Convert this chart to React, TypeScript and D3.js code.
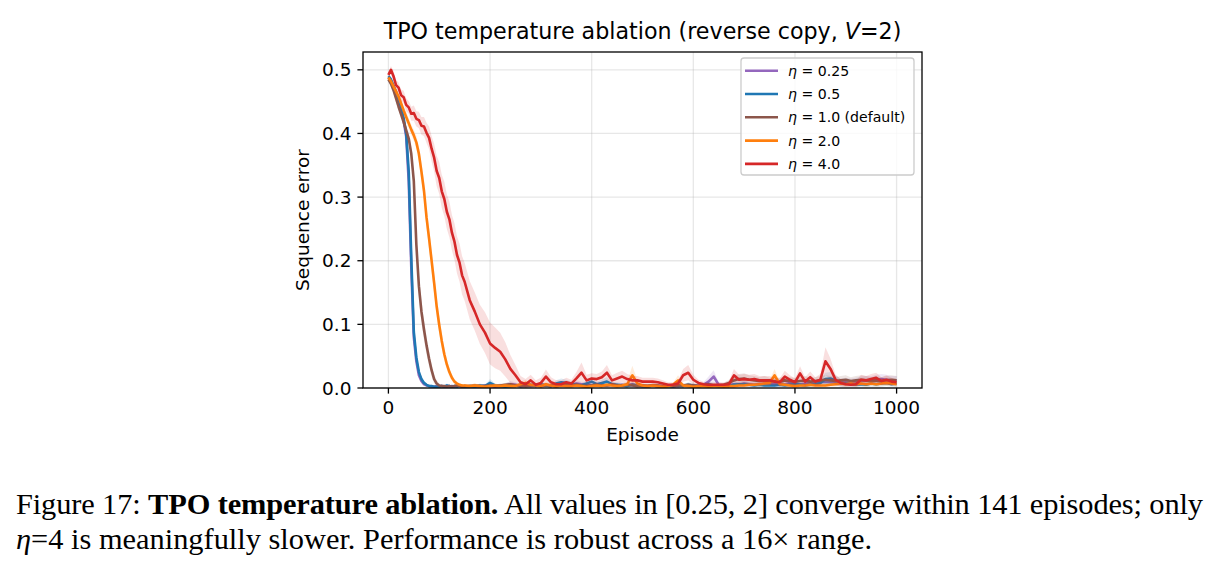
import * as d3 from 'd3'

// shared x grid: every 5 episodes up to 150, then every 10
const episodes = [
  0, 5, 10, 15, 20, 25, 30, 35, 40, 45,
  50, 55, 60, 65, 70, 75, 80, 85, 90, 95,
  100, 105, 110, 115, 120, 125, 130, 135, 140, 145, 150,
  160, 170, 180, 190, 200, 210, 220, 230, 240, 250,
  260, 270, 280, 290, 300, 310, 320, 330, 340, 350,
  360, 370, 380, 390, 400, 410, 420, 430, 440, 450,
  460, 470, 480, 490, 500, 510, 520, 530, 540, 550,
  560, 570, 580, 590, 600, 610, 620, 630, 640, 650,
  660, 670, 680, 690, 700, 710, 720, 730, 740, 750,
  760, 770, 780, 790, 800, 810, 820, 830, 840, 850,
  860, 870, 880, 890, 900, 910, 920, 930, 940, 950,
  960, 970, 980, 990, 1000,
]

// eta = 0.25
const eta025Mean = [
  0.488, 0.483, 0.473, 0.463, 0.452, 0.438, 0.420, 0.395, 0.325, 0.190,
  0.080, 0.042, 0.020, 0.011, 0.006, 0.004, 0.003, 0.002, 0.002, 0.003,
  0.002, 0.003, 0.002, 0.003, 0.002, 0.003, 0.002, 0.004, 0.003, 0.002, 0.003,
  0.002, 0.003, 0.002, 0.004, 0.003, 0.002, 0.003, 0.004, 0.006, 0.005,
  0.003, 0.004, 0.003, 0.004, 0.005, 0.004, 0.003, 0.005, 0.006, 0.004,
  0.005, 0.007, 0.006, 0.005, 0.004, 0.006, 0.005, 0.004, 0.005, 0.004,
  0.005, 0.004, 0.006, 0.004, 0.003, 0.003, 0.004, 0.003, 0.003, 0.004,
  0.003, 0.003, 0.004, 0.004, 0.003, 0.004, 0.005, 0.010, 0.018, 0.005,
  0.004, 0.005, 0.006, 0.005, 0.007, 0.006, 0.005, 0.006, 0.007, 0.006,
  0.006, 0.007, 0.006, 0.008, 0.007, 0.006, 0.007, 0.008, 0.008, 0.009,
  0.010, 0.009, 0.008, 0.009, 0.010, 0.009, 0.010, 0.011, 0.012, 0.012,
  0.013, 0.014, 0.013, 0.012, 0.012,
]
const eta025Sd = [
  0.003, 0.004, 0.005, 0.005, 0.006, 0.006, 0.007, 0.008, 0.012, 0.015,
  0.012, 0.008, 0.006, 0.004, 0.003, 0.002, 0.002, 0.002, 0.002, 0.002,
  0.002, 0.002, 0.002, 0.003, 0.002, 0.002, 0.002, 0.003, 0.003, 0.002, 0.002,
  0.002, 0.003, 0.002, 0.003, 0.003, 0.002, 0.003, 0.003, 0.005, 0.004,
  0.003, 0.003, 0.003, 0.003, 0.004, 0.003, 0.003, 0.004, 0.004, 0.003,
  0.004, 0.005, 0.004, 0.004, 0.003, 0.004, 0.004, 0.003, 0.004, 0.003,
  0.004, 0.003, 0.004, 0.003, 0.003, 0.003, 0.003, 0.003, 0.003, 0.003,
  0.003, 0.003, 0.003, 0.003, 0.003, 0.003, 0.004, 0.008, 0.010, 0.004,
  0.003, 0.004, 0.004, 0.004, 0.005, 0.004, 0.004, 0.004, 0.005, 0.004,
  0.004, 0.005, 0.004, 0.005, 0.005, 0.004, 0.005, 0.005, 0.005, 0.006,
  0.006, 0.006, 0.005, 0.006, 0.006, 0.006, 0.006, 0.007, 0.007, 0.007,
  0.008, 0.008, 0.008, 0.007, 0.007,
]

// eta = 0.5
const eta05Mean = [
  0.490, 0.485, 0.475, 0.465, 0.455, 0.441, 0.424, 0.400, 0.340, 0.205,
  0.088, 0.048, 0.025, 0.014, 0.008, 0.005, 0.003, 0.003, 0.002, 0.002,
  0.002, 0.003, 0.002, 0.004, 0.003, 0.002, 0.003, 0.002, 0.004, 0.003, 0.002,
  0.003, 0.002, 0.004, 0.003, 0.008, 0.004, 0.003, 0.002, 0.003, 0.004,
  0.003, 0.004, 0.005, 0.003, 0.006, 0.004, 0.003, 0.007, 0.009, 0.008,
  0.006, 0.005, 0.004, 0.007, 0.010, 0.006, 0.008, 0.010, 0.006, 0.005,
  0.004, 0.003, 0.005, 0.004, 0.003, 0.003, 0.004, 0.003, 0.002, 0.003,
  0.003, 0.004, 0.003, 0.005, 0.004, 0.003, 0.004, 0.006, 0.004, 0.003,
  0.004, 0.003, 0.005, 0.006, 0.006, 0.005, 0.004, 0.005, 0.004, 0.004,
  0.004, 0.005, 0.004, 0.005, 0.006, 0.005, 0.004, 0.005, 0.006, 0.008,
  0.014, 0.015, 0.012, 0.008, 0.007, 0.006, 0.005, 0.006, 0.005, 0.007,
  0.006, 0.007, 0.008, 0.006, 0.007,
]
const eta05Sd = [
  0.003, 0.004, 0.005, 0.005, 0.006, 0.006, 0.007, 0.008, 0.012, 0.015,
  0.012, 0.008, 0.006, 0.004, 0.003, 0.002, 0.002, 0.002, 0.002, 0.002,
  0.002, 0.002, 0.002, 0.003, 0.002, 0.002, 0.002, 0.002, 0.003, 0.002, 0.002,
  0.002, 0.002, 0.003, 0.002, 0.006, 0.003, 0.002, 0.002, 0.002, 0.003,
  0.002, 0.003, 0.004, 0.002, 0.004, 0.003, 0.002, 0.005, 0.006, 0.005,
  0.004, 0.004, 0.003, 0.005, 0.007, 0.004, 0.005, 0.007, 0.004, 0.004,
  0.003, 0.002, 0.004, 0.003, 0.002, 0.002, 0.003, 0.002, 0.002, 0.002,
  0.002, 0.003, 0.002, 0.004, 0.003, 0.002, 0.003, 0.004, 0.003, 0.002,
  0.003, 0.002, 0.004, 0.004, 0.004, 0.004, 0.003, 0.004, 0.003, 0.003,
  0.003, 0.004, 0.003, 0.004, 0.004, 0.004, 0.003, 0.004, 0.004, 0.006,
  0.010, 0.010, 0.008, 0.006, 0.005, 0.004, 0.004, 0.004, 0.004, 0.005,
  0.004, 0.005, 0.005, 0.004, 0.005,
]

// eta = 1.0 (default)
const eta1Mean = [
  0.485, 0.478, 0.468, 0.455, 0.442, 0.430, 0.418, 0.405, 0.392, 0.368,
  0.325, 0.225, 0.160, 0.120, 0.092, 0.067, 0.046, 0.028, 0.014, 0.007,
  0.004, 0.003, 0.003, 0.002, 0.003, 0.002, 0.003, 0.004, 0.003, 0.002, 0.003,
  0.003, 0.004, 0.003, 0.003, 0.004, 0.003, 0.004, 0.005, 0.006, 0.004,
  0.004, 0.003, 0.004, 0.005, 0.003, 0.004, 0.004, 0.003, 0.004, 0.005,
  0.004, 0.005, 0.004, 0.003, 0.004, 0.005, 0.004, 0.004, 0.006, 0.004,
  0.004, 0.005, 0.004, 0.003, 0.004, 0.003, 0.004, 0.004, 0.003, 0.004,
  0.003, 0.004, 0.004, 0.005, 0.004, 0.003, 0.004, 0.005, 0.004, 0.004,
  0.005, 0.008, 0.012, 0.014, 0.015, 0.013, 0.012, 0.011, 0.012, 0.010,
  0.011, 0.010, 0.012, 0.011, 0.010, 0.011, 0.012, 0.010, 0.011, 0.012,
  0.013, 0.012, 0.011, 0.012, 0.013, 0.011, 0.012, 0.013, 0.012, 0.011,
  0.012, 0.011, 0.012, 0.013, 0.012,
]
const eta1Sd = [
  0.003, 0.004, 0.005, 0.006, 0.006, 0.007, 0.007, 0.008, 0.009, 0.010,
  0.012, 0.016, 0.018, 0.018, 0.016, 0.014, 0.012, 0.010, 0.007, 0.005,
  0.003, 0.002, 0.002, 0.002, 0.002, 0.002, 0.002, 0.002, 0.002, 0.002, 0.002,
  0.002, 0.003, 0.002, 0.002, 0.003, 0.002, 0.003, 0.003, 0.004, 0.003,
  0.003, 0.002, 0.003, 0.003, 0.002, 0.003, 0.003, 0.002, 0.003, 0.003,
  0.003, 0.003, 0.003, 0.002, 0.003, 0.003, 0.003, 0.003, 0.004, 0.003,
  0.003, 0.003, 0.003, 0.002, 0.003, 0.002, 0.003, 0.003, 0.002, 0.003,
  0.002, 0.003, 0.003, 0.003, 0.003, 0.002, 0.003, 0.003, 0.003, 0.003,
  0.003, 0.005, 0.007, 0.008, 0.008, 0.007, 0.007, 0.006, 0.007, 0.006,
  0.006, 0.006, 0.007, 0.006, 0.006, 0.006, 0.007, 0.006, 0.006, 0.007,
  0.007, 0.007, 0.006, 0.007, 0.007, 0.006, 0.007, 0.007, 0.007, 0.006,
  0.007, 0.006, 0.007, 0.007, 0.007,
]

// eta = 2.0
const eta2Mean = [
  0.488, 0.482, 0.474, 0.466, 0.458, 0.447, 0.436, 0.426, 0.416, 0.406,
  0.397, 0.386, 0.368, 0.340, 0.310, 0.268, 0.235, 0.200, 0.165, 0.128,
  0.099, 0.074, 0.053, 0.037, 0.025, 0.016, 0.010, 0.007, 0.005, 0.004, 0.004,
  0.003, 0.004, 0.003, 0.002, 0.003, 0.004, 0.003, 0.004, 0.003, 0.003,
  0.006, 0.008, 0.005, 0.004, 0.003, 0.006, 0.004, 0.003, 0.004, 0.003,
  0.003, 0.004, 0.003, 0.002, 0.003, 0.004, 0.003, 0.005, 0.004, 0.003,
  0.004, 0.006, 0.020, 0.007, 0.004, 0.003, 0.004, 0.003, 0.002, 0.003,
  0.005, 0.012, 0.004, 0.003, 0.002, 0.003, 0.003, 0.002, 0.003, 0.003,
  0.002, 0.003, 0.003, 0.004, 0.004, 0.005, 0.005, 0.006, 0.007, 0.008,
  0.020, 0.006, 0.005, 0.004, 0.003, 0.004, 0.004, 0.005, 0.004, 0.004,
  0.004, 0.005, 0.006, 0.007, 0.006, 0.007, 0.006, 0.007, 0.006, 0.007,
  0.006, 0.007, 0.008, 0.007, 0.006,
]
const eta2Sd = [
  0.003, 0.004, 0.005, 0.006, 0.006, 0.007, 0.007, 0.008, 0.008, 0.008,
  0.009, 0.010, 0.012, 0.014, 0.016, 0.017, 0.017, 0.017, 0.016, 0.015,
  0.014, 0.012, 0.010, 0.008, 0.007, 0.005, 0.004, 0.003, 0.003, 0.002, 0.002,
  0.002, 0.003, 0.002, 0.002, 0.002, 0.003, 0.002, 0.003, 0.002, 0.002,
  0.004, 0.005, 0.003, 0.003, 0.002, 0.004, 0.003, 0.002, 0.003, 0.002,
  0.002, 0.003, 0.002, 0.002, 0.002, 0.003, 0.002, 0.003, 0.003, 0.002,
  0.003, 0.004, 0.015, 0.005, 0.003, 0.002, 0.003, 0.002, 0.002, 0.002,
  0.003, 0.008, 0.003, 0.002, 0.002, 0.002, 0.002, 0.002, 0.002, 0.002,
  0.002, 0.002, 0.002, 0.003, 0.003, 0.003, 0.003, 0.004, 0.004, 0.005,
  0.010, 0.004, 0.003, 0.003, 0.002, 0.003, 0.003, 0.003, 0.003, 0.003,
  0.003, 0.003, 0.004, 0.004, 0.004, 0.004, 0.004, 0.004, 0.004, 0.004,
  0.004, 0.004, 0.005, 0.004, 0.004,
]

// eta = 4.0
const eta4Mean = [
  0.492, 0.500, 0.490, 0.476, 0.472, 0.460, 0.457, 0.445, 0.441, 0.431,
  0.432, 0.423, 0.421, 0.412, 0.411, 0.401, 0.393, 0.376, 0.362, 0.341,
  0.330, 0.309, 0.297, 0.277, 0.265, 0.244, 0.230, 0.209, 0.197, 0.177, 0.167,
  0.138, 0.120, 0.100, 0.087, 0.070, 0.063, 0.057, 0.045, 0.030, 0.020,
  0.009, 0.006, 0.012, 0.005, 0.008, 0.018, 0.009, 0.006, 0.006, 0.009,
  0.007, 0.015, 0.024, 0.012, 0.015, 0.014, 0.017, 0.024, 0.012, 0.015,
  0.018, 0.014, 0.012, 0.012, 0.010, 0.010, 0.010, 0.009, 0.007, 0.005,
  0.005, 0.007, 0.020, 0.024, 0.013, 0.008, 0.006, 0.005, 0.005, 0.005,
  0.005, 0.006, 0.020, 0.013, 0.014, 0.013, 0.014, 0.012, 0.012, 0.012,
  0.010, 0.009, 0.018, 0.013, 0.009, 0.023, 0.010, 0.017, 0.010, 0.013,
  0.042, 0.030, 0.013, 0.008, 0.006, 0.005, 0.006, 0.013, 0.012, 0.014,
  0.016, 0.011, 0.013, 0.010, 0.009,
]
const eta4Sd = [
  0.004, 0.006, 0.008, 0.008, 0.008, 0.009, 0.010, 0.010, 0.010, 0.011,
  0.012, 0.012, 0.013, 0.014, 0.015, 0.016, 0.018, 0.020, 0.022, 0.024,
  0.025, 0.026, 0.027, 0.027, 0.028, 0.028, 0.029, 0.029, 0.030, 0.030, 0.030,
  0.030, 0.030, 0.031, 0.032, 0.033, 0.032, 0.030, 0.027, 0.022, 0.016,
  0.010, 0.008, 0.009, 0.007, 0.008, 0.011, 0.008, 0.006, 0.006, 0.007,
  0.006, 0.010, 0.016, 0.009, 0.008, 0.008, 0.009, 0.012, 0.008, 0.009,
  0.009, 0.008, 0.007, 0.007, 0.006, 0.006, 0.006, 0.006, 0.005, 0.004,
  0.004, 0.005, 0.010, 0.012, 0.008, 0.005, 0.004, 0.004, 0.004, 0.004,
  0.004, 0.005, 0.010, 0.008, 0.008, 0.008, 0.008, 0.007, 0.007, 0.007,
  0.006, 0.006, 0.009, 0.007, 0.006, 0.011, 0.007, 0.009, 0.007, 0.009,
  0.022, 0.016, 0.008, 0.006, 0.005, 0.004, 0.005, 0.008, 0.007, 0.008,
  0.008, 0.006, 0.007, 0.006, 0.005,
]

const seriesNames = ['0.25', '0.5', '1.0', '2.0', '4.0']
const seriesSuffix = ['', '', ' (default)', '', '']
const seriesColors = ['#9467bd', '#1f77b4', '#8c564b', '#ff7f0e', '#d62728']
const seriesMeans = [eta025Mean, eta05Mean, eta1Mean, eta2Mean, eta4Mean]
const seriesSds = [eta025Sd, eta05Sd, eta1Sd, eta2Sd, eta4Sd]

const xTicks = [0, 200, 400, 600, 800, 1000]
const yTicks = [0, 0.1, 0.2, 0.3, 0.4, 0.5]

const W = 1220
const H = 567
const plot = { left: 363, right: 922, top: 52, bottom: 388 }
const font = 'DejaVu Sans, sans-serif'
const serif = 'Liberation Serif, Times New Roman, serif'

export default function App() {
  const x = d3.scaleLinear().domain([-50, 1050]).range([plot.left, plot.right])
  const y = d3.scaleLinear().domain([0, 0.528]).range([plot.bottom, plot.top])

  const rows = (i: number) =>
    episodes.map((e, k) => ({ e, m: seriesMeans[i][k], s: seriesSds[i][k] }))

  const line = d3.line<{ e: number; m: number; s: number }>()
    .x(d => x(d.e))
    .y(d => y(d.m))
  const band = d3.area<{ e: number; m: number; s: number }>()
    .x(d => x(d.e))
    .y0(d => y(d.m - d.s))
    .y1(d => y(d.m + d.s))

  const midX = (plot.left + plot.right) / 2
  const legendX = 741
  const legendY = 58
  const rowH = 23.3

  return (
    <svg width={W} height={H} style={{ position: 'absolute', left: 0, top: 0, background: '#fff' }}>
      <defs>
        <clipPath id="plotClip">
          <rect x={plot.left} y={plot.top} width={plot.right - plot.left} height={plot.bottom - plot.top} />
        </clipPath>
      </defs>

      {/* grid */}
      <g stroke="#b0b0b0" strokeOpacity={0.3} strokeWidth={1.3}>
        {xTicks.map(t => (
          <line key={'gx' + t} x1={x(t)} x2={x(t)} y1={plot.top} y2={plot.bottom} />
        ))}
        {yTicks.map(t => (
          <line key={'gy' + t} x1={plot.left} x2={plot.right} y1={y(t)} y2={y(t)} />
        ))}
      </g>

      {/* bands + lines */}
      <g clipPath="url(#plotClip)">
        {seriesNames.map((n, i) => (
          <g key={n}>
            <path d={band(rows(i)) || ''} fill={seriesColors[i]} fillOpacity={0.15} stroke="none" />
            <path
              d={line(rows(i)) || ''}
              fill="none"
              stroke={seriesColors[i]}
              strokeWidth={2.6}
              strokeLinejoin="round"
            />
          </g>
        ))}
      </g>

      {/* spines */}
      <rect
        x={plot.left}
        y={plot.top}
        width={plot.right - plot.left}
        height={plot.bottom - plot.top}
        fill="none"
        stroke="#000"
        strokeWidth={1.3}
      />

      {/* axes */}
      <g fontFamily={font} fontSize={18.5} fill="#000">
        {xTicks.map(t => (
          <g key={'xt' + t}>
            <line x1={x(t)} x2={x(t)} y1={plot.bottom} y2={plot.bottom + 5.6} stroke="#000" strokeWidth={1.3} />
            <text x={x(t)} y={plot.bottom + 26} textAnchor="middle">{t}</text>
          </g>
        ))}
        {yTicks.map(t => (
          <g key={'yt' + t}>
            <line x1={plot.left - 5.6} x2={plot.left} y1={y(t)} y2={y(t)} stroke="#000" strokeWidth={1.3} />
            <text x={plot.left - 11.5} y={y(t)} dy="0.36em" textAnchor="end">{t.toFixed(1)}</text>
          </g>
        ))}
        <text x={midX} y={441} textAnchor="middle">Episode</text>
        <text
          transform={`translate(309,${(plot.top + plot.bottom) / 2}) rotate(-90)`}
          textAnchor="middle"
        >
          Sequence error
        </text>
      </g>

      {/* title */}
      <text x={midX} y={39} textAnchor="middle" fontFamily={font} fontSize={22.2} fill="#000">
        TPO temperature ablation (reverse copy, <tspan fontStyle="italic">V</tspan>=2)
      </text>

      {/* legend */}
      <rect
        x={legendX}
        y={legendY}
        width={173}
        height={117}
        rx={3}
        fill="#fff"
        fillOpacity={0.8}
        stroke="#cccccc"
        strokeWidth={1.3}
      />
      <g fontFamily={font} fontSize={14.1} fill="#000">
        {seriesNames.map((n, i) => {
          const cy = legendY + 12.7 + i * rowH
          return (
            <g key={'lg' + n}>
              <line x1={legendX + 4} x2={legendX + 37} y1={cy} y2={cy} stroke={seriesColors[i]} strokeWidth={2.6} />
              <text x={legendX + 47} y={cy} dy="0.36em">
                <tspan fontStyle="italic">η</tspan>
                <tspan> = {n}{seriesSuffix[i]}</tspan>
              </text>
            </g>
          )
        })}
      </g>

      {/* caption */}
      <g fontFamily={serif} fontSize={30.4} fill="#000">
        <text x={16} y={514} textLength={1187} lengthAdjust="spacing">
          Figure 17: <tspan fontWeight="bold">TPO temperature ablation.</tspan> All values in [0.25, 2] converge within 141 episodes; only
        </text>
        <text x={16} y={549}>
          <tspan fontStyle="italic">η</tspan>=4 is meaningfully slower. Performance is robust across a 16× range.
        </text>
      </g>
    </svg>
  )
}
